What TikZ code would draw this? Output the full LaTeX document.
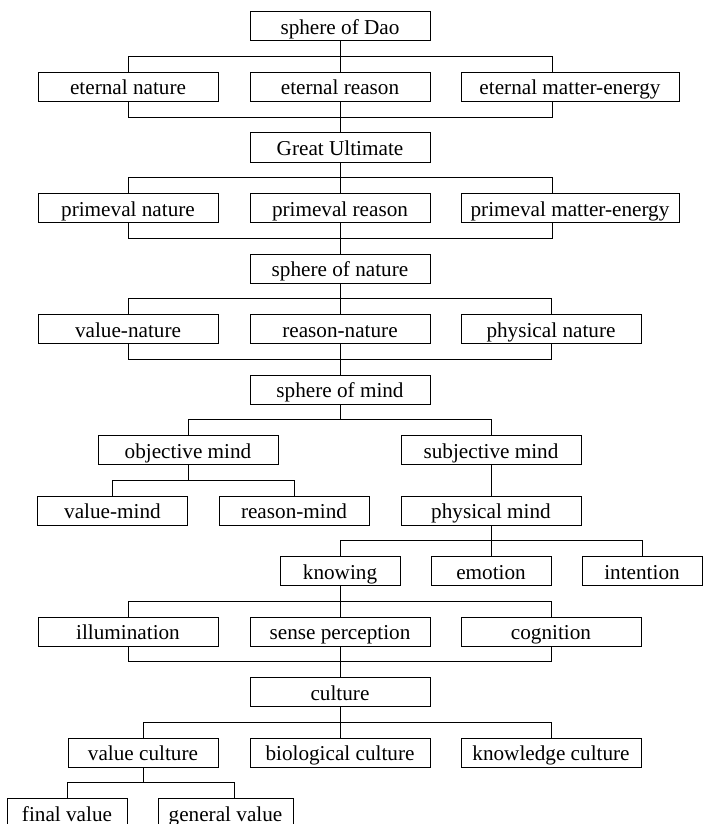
\documentclass[tikz,border=0pt]{standalone}
\usepackage{fontspec}
\setmainfont{Liberation Serif}
\begin{document}
\begin{tikzpicture}[x=0.5pt, y=-0.5pt, line width=0.5pt,
    bigbox/.style={draw, minimum width=90pt, minimum height=14.5pt, inner sep=0pt,
        text height=9pt, text depth=1pt, font=\fontsize{10.6}{12}\selectfont},
    widebox/.style={bigbox, minimum width=109pt},
    midbox/.style={bigbox, minimum width=75pt},
    smallbox/.style={bigbox, minimum width=60pt}]
                \useasboundingbox (0,0) rectangle (703,824);

                % sphere of Dao
                \node[bigbox] (dao) at (340,26.5) {sphere of Dao};
                \node[bigbox] (en) at (128,87) {eternal nature};
                \node[bigbox] (er) at (340,87) {eternal reason};
                \node[widebox] (eme) at (570,87) {eternal matter-energy};

                \node[bigbox] (gu) at (340,147.5) {Great Ultimate};
                \node[bigbox] (pn) at (128,208) {primeval nature};
                \node[bigbox] (pr) at (340,208) {primeval reason};
                \node[widebox] (pme) at (570,208) {primeval matter-energy};

                % sphere of nature
                \node[bigbox] (sn) at (340,268.5) {sphere of nature};
                \node[bigbox] (vn) at (128,329) {value-nature};
                \node[bigbox] (rn) at (340,329) {reason-nature};
                \node[bigbox] (phn) at (551,329) {physical nature};

                % sphere of mind
                \node[bigbox] (sm) at (340,389.5) {sphere of mind};
                \node[bigbox] (om) at (188,450) {objective mind};
                \node[bigbox] (subm) at (491,450) {subjective mind};
                \node[midbox] (vm) at (112.5,510.5) {value-mind};
                \node[midbox] (rm) at (294,510.5) {reason-mind};
                \node[bigbox] (pm) at (491,510.5) {physical mind};
                \node[smallbox] (kn) at (340,571) {knowing};
                \node[smallbox] (emo) at (491,571) {emotion};
                \node[smallbox] (inte) at (642,571) {intention};
                \node[bigbox] (ill) at (128,631.5) {illumination};
                \node[bigbox] (sp) at (340,631.5) {sense perception};
                \node[bigbox] (cog) at (551,631.5) {cognition};

                % culture
                \node[bigbox] (cul) at (340,692) {culture};
                \node[midbox] (vc) at (143,752.5) {value culture};
                \node[bigbox] (bc) at (340,752.5) {biological culture};
                \node[bigbox] (kc) at (551,752.5) {knowledge culture};
                \node[smallbox] (fv) at (67,813) {final value};
                \node[bigbox, minimum width=67.5pt] (gv) at (225.5,813) {general value};

                % buses
                \coordinate (b1) at (340,56.75);
                \coordinate (b2) at (340,117.25);
                \coordinate (b3) at (340,177.75);
                \coordinate (b4) at (340,238.25);
                \coordinate (b5) at (340,298.75);
                \coordinate (b6) at (340,359.25);
                \coordinate (b7) at (340,419.75);
                \coordinate (b8) at (188,480.25);
                \coordinate (b9) at (491,540.75);
                \coordinate (b10) at (340,601.25);
                \coordinate (b11) at (340,661.75);
                \coordinate (b12) at (340,722.25);
                \coordinate (b13) at (143,782.75);

                \draw (dao.south) -- (er.north);
                \draw (en.north) |- (b1) -| ([xshift=-9pt]eme.north);
                \draw (er.south) -- (gu.north);
                \draw (en.south) |- (b2) -| ([xshift=-9pt]eme.south);

                \draw (gu.south) -- (pr.north);
                \draw (pn.north) |- (b3) -| ([xshift=-9pt]pme.north);
                \draw (pr.south) -- (sn.north);
                \draw (pn.south) |- (b4) -| ([xshift=-9pt]pme.south);

                \draw (sn.south) -- (rn.north);
                \draw (vn.north) |- (b5) -| (phn.north);
                \draw (rn.south) -- (sm.north);
                \draw (vn.south) |- (b6) -| (phn.south);

                \draw (sm.south) -- (b7);
                \draw (om.north) |- (b7) -| (subm.north);
                \draw (om.south) -- (b8);
                \draw (vm.north) |- (b8) -| (rm.north);
                \draw (subm.south) -- (pm.north);

                \draw (pm.south) -- (emo.north);
                \draw (kn.north) |- (b9) -| (inte.north);
                \draw (kn.south) -- (sp.north);
                \draw (ill.north) |- (b10) -| (cog.north);
                \draw (sp.south) -- (cul.north);
                \draw (ill.south) |- (b11) -| (cog.south);

                \draw (cul.south) -- (bc.north);
                \draw (vc.north) |- (b12) -| (kc.north);
                \draw (vc.south) -- (b13);
                \draw (fv.north) |- (b13) -| ([xshift=4.25pt]gv.north);
\end{tikzpicture}
\end{document}
